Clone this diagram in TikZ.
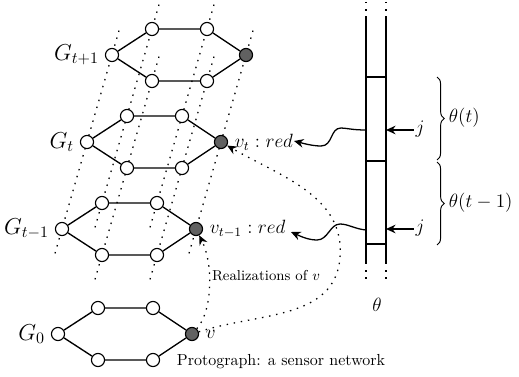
\documentclass[tikz,border=0pt]{standalone}
\usetikzlibrary{calc,arrows.meta,decorations.pathreplacing}
\pgfdeclarelayer{bg}
\pgfsetlayers{bg,main}
\begin{document}
\begin{tikzpicture}[x=0.625pt,y=-0.625pt,
  vtx/.style={circle,draw,fill=white,minimum size=8.2pt,inner sep=0pt,line width=0.7pt},
  vfill/.style={vtx,fill=black!62},
  edge/.style={line width=0.85pt},
  dots/.style={line width=0.8pt,dash pattern=on 0.9pt off 3.6pt},
  tip/.style={-{Stealth[length=6pt,width=5.4pt,inset=2pt]}},
  tape/.style={line width=0.8pt},
  lab/.style={font=\large,inner sep=1pt},
  glab/.style={font=\Large,inner sep=1pt},
]
\useasboundingbox (0,0) rectangle (519,376);
% graphs
\foreach \n/\lx/\ly in {p/112/55, c/87/142, m/62/229, z/58/334}{
  \node[vtx] (\n1) at (\lx,\ly) {};
  \node[vtx] (\n2) at (\lx+40,\ly-26) {};
  \node[vtx] (\n3) at (\lx+95,\ly-26) {};
  \node[vfill] (\n4) at (\lx+134,\ly) {};
  \node[vtx] (\n5) at (\lx+95,\ly+26) {};
  \node[vtx] (\n6) at (\lx+40,\ly+26) {};
  \draw[edge] (\n1) -- (\n2) -- (\n3) -- (\n4) -- (\n5) -- (\n6) -- (\n1);
}
\begin{pgfonlayer}{bg}
\foreach \k in {1,...,6}{
  \draw[dots] ($(m\k)!-0.14!(p\k)$) -- ($(p\k)!-0.14!(m\k)$);
}
\end{pgfonlayer}
% graph labels
\node[glab,anchor=east] (Lp) at ([xshift=-2.5pt]p1.west) {$G_{t+1}$};
\node[glab,anchor=east] (Lc) at ([xshift=-2.5pt]c1.west) {$G_t$};
\node[glab,anchor=east] (Lm) at ([xshift=-2.5pt]m1.west) {$G_{t-1}$};
\node[glab,anchor=east] (Lz) at ([xshift=-2.5pt]z1.west) {$G_0$};
\node[lab,anchor=west] (vt) at ([xshift=3pt]c4.east) {$v_t : red$};
\node[lab,anchor=west] (vt1) at ([xshift=3pt]m4.east) {$v_{t-1} : red$};
\node[lab,anchor=west] (vz) at ([xshift=3pt]z4.east) {$v$};
\node[font=\small,inner sep=1pt] (real) at (266,276) {Realizations of $v$};
\node[inner sep=1pt] (proto) at (281,362) {Protograph: a sensor network};
% tape
\coordinate (T1) at (366,18);
\coordinate (T2) at (386,18);
\coordinate (B1) at (366,263);
\coordinate (B2) at (386,263);
\draw[tape] (T1) -- (B1);
\draw[tape] (T2) -- (B2);
\foreach \yy in {77,161,244} \draw[tape] (366,\yy) -- (386,\yy);
\draw[dots] (366,2) -- (T1);
\draw[dots] (386,2) -- (T2);
\draw[dots] (B1) -- (366,279);
\draw[dots] (B2) -- (386,279);
\node[lab] (th) at (377,305) {$\theta$};
% j arrows
\node[lab] (j1) at (420,129) {$j$};
\node[lab] (j2) at (420,228) {$j$};
\coordinate (r1) at (386,130);
\coordinate (r2) at (386,229);
\draw[tip,line width=0.8pt] (j1.west |- r1) -- (r1);
\draw[tip,line width=0.8pt] (j2.west |- r2) -- (r2);
% braces
\draw[line width=0.6pt,decorate,decoration={brace,amplitude=4.5pt}] (437,77) -- (437,160);
\draw[line width=0.6pt,decorate,decoration={brace,amplitude=4.5pt}] (437,162) -- (437,245);
\node[lab,anchor=west] (th1) at (447,118) {$\theta(t)$};
\node[lab,anchor=west] (th2) at (447,203) {$\theta(t-1)$};
% wavy arrows from tape
\coordinate (w1) at (366,130);
\coordinate (w2) at (366,230);
\coordinate (e1) at (294,141);
\coordinate (e2) at (291,232);
\draw[tip,line width=0.8pt] (w1) .. controls (352,130) and (346,128) .. (341,128)
  .. controls (330,128) and (333,146) .. (321,146)
  .. controls (312,146) and (302,143) .. (e1);
\draw[tip,line width=0.8pt] (w2) .. controls (355,229) and (348,224) .. (340,224)
  .. controls (330,224) and (328,240) .. (317,240)
  .. controls (308,240) and (300,236) .. (e2);
% dotted realization arrows
\draw[dots,tip] (z4) .. controls (212,312) and (214,265) .. (m4);
\coordinate (bend) at (340,258);
\draw[dots,tip] (z4) to[out=18,in=-95] (bend) to[out=85,in=-30] (c4);
\end{tikzpicture}
\end{document}
